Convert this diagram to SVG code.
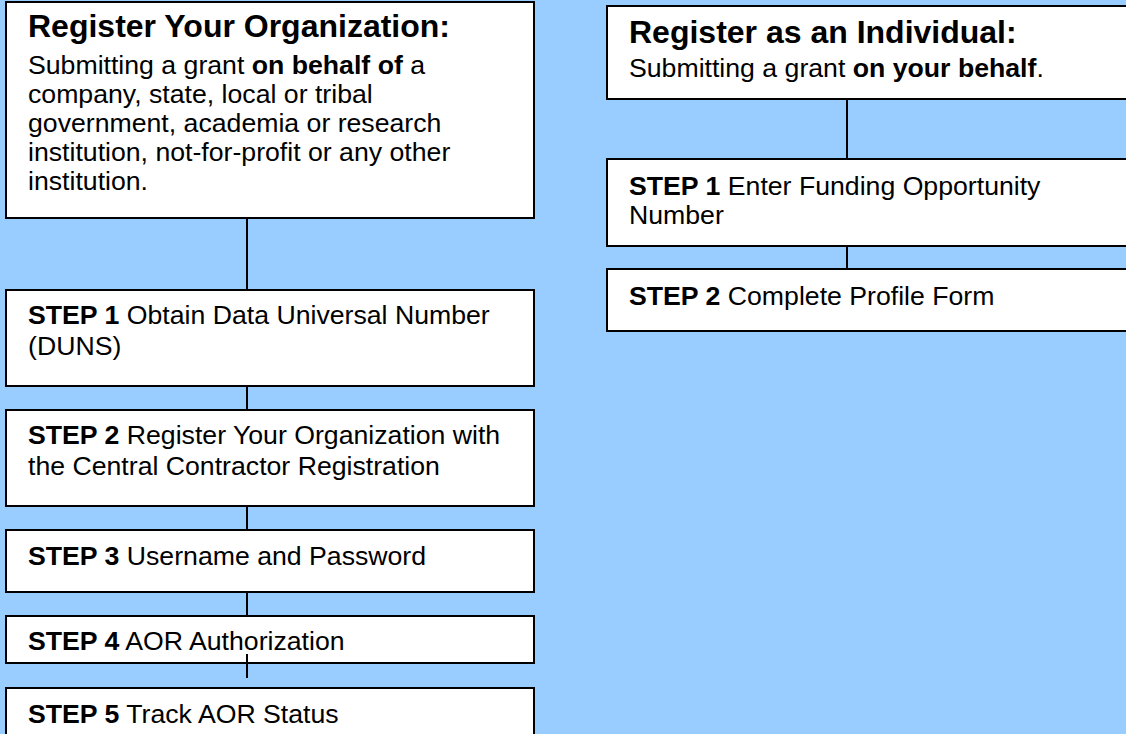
<svg xmlns="http://www.w3.org/2000/svg" width="1126" height="734" viewBox="0 0 1126 734">
<style>
.box{fill:#fff;stroke:#000;stroke-width:2}
.t{font-family:"Liberation Sans",Arial,sans-serif;font-size:26.67px;fill:#000}
.h{font-family:"Liberation Sans",Arial,sans-serif;font-size:32px;font-weight:bold;fill:#000}
.b{font-weight:bold}
.c{stroke:#000;stroke-width:2;fill:none}
</style>
<rect x="0" y="0" width="1126" height="734" fill="#99CCFF"/>
<g id="connectors">
<line class="c" x1="247" y1="218" x2="247" y2="290"/>
<line class="c" x1="247" y1="386" x2="247" y2="410"/>
<line class="c" x1="247" y1="506" x2="247" y2="530"/>
<line class="c" x1="247" y1="592" x2="247" y2="616"/>
<line class="c" x1="847" y1="97" x2="847" y2="159"/>
<line class="c" x1="847" y1="246" x2="847" y2="269"/>
</g>
<g id="org">
<rect class="box" x="6" y="2" width="528" height="216"/>
<text class="h" x="28" y="37">Register Your Organization:</text>
<text class="t" x="28" y="74">Submitting a grant <tspan class="b">on behalf of</tspan> a</text>
<text class="t" x="28" y="103">company, state, local or tribal</text>
<text class="t" x="28" y="132">government, academia or research</text>
<text class="t" x="28" y="161">institution, not-for-profit or any other</text>
<text class="t" x="28" y="190">institution.</text>
</g>
<g id="org-step1">
<rect class="box" x="6" y="290" width="528" height="96"/>
<text class="t" x="28" y="324"><tspan class="b">STEP 1</tspan> Obtain Data Universal Number</text>
<text class="t" x="28" y="355">(DUNS)</text>
</g>
<g id="org-step2">
<rect class="box" x="6" y="410" width="528" height="96"/>
<text class="t" x="28" y="444"><tspan class="b">STEP 2</tspan> Register Your Organization with</text>
<text class="t" x="28" y="475">the Central Contractor Registration</text>
</g>
<g id="org-step3">
<rect class="box" x="6" y="530" width="528" height="62"/>
<text class="t" x="28" y="565"><tspan class="b">STEP 3</tspan> Username and Password</text>
</g>
<g id="org-step4">
<rect class="box" x="6" y="616" width="528" height="47"/>
<text class="t" x="28" y="650"><tspan class="b">STEP 4</tspan> AOR Authorization</text>
</g>
<g id="org-step5">
<rect class="box" x="6" y="688" width="528" height="60"/>
<text class="t" x="28" y="723"><tspan class="b">STEP 5</tspan> Track AOR Status</text>
</g>
<g id="connector-overlay">
<line class="c" x1="247" y1="654" x2="247" y2="678"/>
</g>
<g id="ind">
<rect class="box" x="607" y="6" width="530" height="93"/>
<text class="h" x="629" y="43">Register as an Individual:</text>
<text class="t" x="629" y="77">Submitting a grant <tspan class="b">on your behalf</tspan>.</text>
</g>
<g id="ind-step1">
<rect class="box" x="607" y="159" width="530" height="87"/>
<text class="t" x="629" y="195"><tspan class="b">STEP 1</tspan> Enter Funding Opportunity</text>
<text class="t" x="629" y="224">Number</text>
</g>
<g id="ind-step2">
<rect class="box" x="607" y="269" width="530" height="62"/>
<text class="t" x="629" y="305"><tspan class="b">STEP 2</tspan> Complete Profile Form</text>
</g>
</svg>
